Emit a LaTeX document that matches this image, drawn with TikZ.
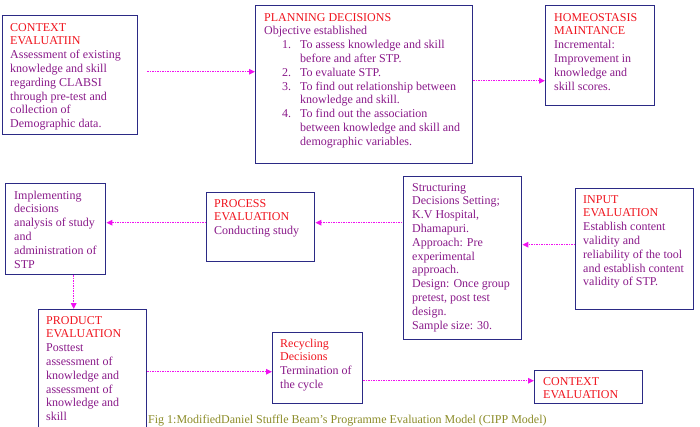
\documentclass[tikz,border=0pt]{standalone}
\usepackage{fontspec}
\setmainfont{Liberation Serif}
\usetikzlibrary{arrows.meta,calc}
\definecolor{hdr}{HTML}{F0141E}
\definecolor{body}{HTML}{8A1A8A}
\definecolor{edge}{HTML}{2B2A85}
\definecolor{arr}{HTML}{F010F0}
\definecolor{capc}{HTML}{8C8C28}
\begin{document}
\begin{tikzpicture}[x=1pt,y=-1pt,
  box/.style={draw=edge,line width=1.4pt,anchor=north west,inner sep=0pt},
  txt/.style={anchor=north west,inner sep=0pt,align=left,text=body,font=\fontsize{12}{13.8}\selectfont},
  link/.style={draw=arr,line width=1.3pt,dash pattern=on 1.3pt off 1.2pt,-{Triangle[length=6pt,width=5.5pt]}}]
\useasboundingbox (0,0) rectangle (700,426);
\fill[white] (0,0) rectangle (700,426);
\clip (0,0) rectangle (700,426);
% boxes
\node[box,minimum width=135pt,minimum height=119pt] (ctx) at (2,15) {};
\node[box,minimum width=217pt,minimum height=158pt] (plan) at (255,5) {};
\node[box,minimum width=109pt,minimum height=100pt] (homeo) at (545,5) {};
\node[box,minimum width=100pt,minimum height=91pt] (impl) at (5,183) {};
\node[box,minimum width=108pt,minimum height=69pt] (proc) at (206,192) {};
\node[box,minimum width=118pt,minimum height=163pt] (struct) at (403,176) {};
\node[box,minimum width=118pt,minimum height=121pt] (inp) at (575,188) {};
\node[box,minimum width=108pt,minimum height=125pt] (prod) at (38,309) {};
\node[box,minimum width=90pt,minimum height=71pt] (rec) at (272,332) {};
\node[box,minimum width=108pt,minimum height=33pt] (ctxb) at (534,370) {};
% texts
\node[txt] (ctxT) at (10,21.3) {\strut\textcolor{hdr}{CONTEXT}\\\textcolor{hdr}{EVALUATIIN}\\Assessment of existing\\knowledge and skill\\regarding CLABSI\\through pre-test and\\collection of\\Demographic data.};
\node[txt] (planT) at (264,11.3) {\strut\textcolor{hdr}{PLANNING DECISIONS}\\Objective established\\
\hspace*{18pt}\makebox[18pt][l]{1.}To assess knowledge and skill\\
\hspace*{36pt}before and after STP.\\
\hspace*{18pt}\makebox[18pt][l]{2.}To evaluate STP.\\
\hspace*{18pt}\makebox[18pt][l]{3.}To find out relationship between\\
\hspace*{36pt}knowledge and skill.\\
\hspace*{18pt}\makebox[18pt][l]{4.}To find out the association\\
\hspace*{36pt}between knowledge and skill and\\
\hspace*{36pt}demographic variables.};
\node[txt] (homeoT) at (554,11.3) {\strut\textcolor{hdr}{HOMEOSTASIS}\\\textcolor{hdr}{MAINTANCE}\\Incremental:\\Improvement in\\knowledge and\\skill scores.};
\node[txt] (implT) at (14,189.3) {\strut Implementing\\decisions\\analysis of study\\and\\administration of\\STP};
\node[txt] (procT) at (214,197.3) {\strut\textcolor{hdr}{PROCESS}\\\textcolor{hdr}{EVALUATION}\\Conducting study};
\node[txt] (structT) at (412,181.3) {\strut Structuring\\Decisions Setting;\\K.V Hospital,\\Dhamapuri.\\Approach: Pre\\experimental\\approach.\\Design: Once group\\pretest, post test\\design.\\Sample size: 30.};
\node[txt] (inpT) at (583,193.3) {\strut\textcolor{hdr}{INPUT}\\\textcolor{hdr}{EVALUATION}\\Establish content\\validity and\\reliability of the tool\\and establish content\\validity of STP.};
\node[txt] (prodT) at (46,314.3) {\strut\textcolor{hdr}{PRODUCT}\\\textcolor{hdr}{EVALUATION}\\Posttest\\assessment of\\knowledge and\\assessment of\\knowledge and\\skill};
\node[txt] (recT) at (280,337.3) {\strut\textcolor{hdr}{Recycling}\\\textcolor{hdr}{Decisions}\\Termination of\\the cycle};
\node[txt] (ctxbT) at (543,375.3) {\strut\textcolor{hdr}{CONTEXT}\\\textcolor{hdr}{EVALUATION}};
\node[anchor=base west,inner sep=0pt,text=capc,font=\fontsize{12}{13.8}\selectfont] (cap) at (148,423) {Fig 1:ModifiedDaniel Stuffle Beam’s Programme Evaluation Model (CIPP Model)};
% connectors
\draw[link] ($(ctx.east)+(9,-3.5)$) coordinate (a1) -- (a1 -| plan.west);
\draw[link] ($(plan.east)+(0,-4)$) coordinate (a2) -- (a2 -| homeo.west);
\draw[link] ($(proc.west)+(0,-4.5)$) coordinate (a3) -- (a3 -| impl.east);
\draw[link] ($(struct.west |- proc.west)+(-1,-4.5)$) coordinate (a4) -- (a4 -| proc.east);
\draw[link] ($(inp.west)+(0,-4.5)$) coordinate (a5) -- (a5 -| struct.east);
\draw[link] ($(impl.south)+(18,0)$) coordinate (a6) -- (a6 |- prod.north);
\draw[link] ($(prod.east)+(0,-0.5)$) coordinate (a7) -- (a7 -| rec.west);
\draw[link] ($(rec.east)+(0,12.5)$) coordinate (a8) -- (a8 -| ctxb.west);
\end{tikzpicture}
\end{document}
